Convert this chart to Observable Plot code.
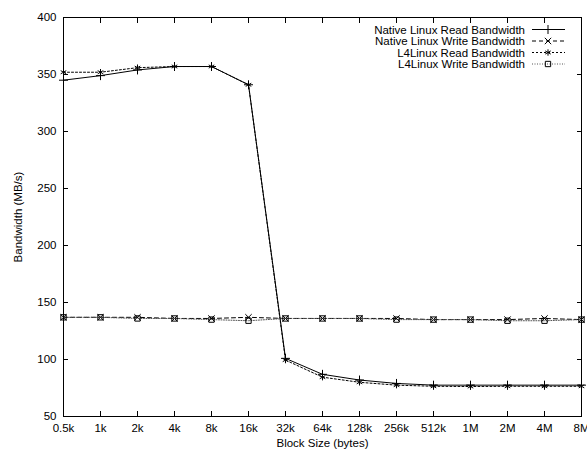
<!DOCTYPE html>
<html><head><meta charset="utf-8">
<script src="https://cdn.jsdelivr.net/npm/d3@7"></script>
<script src="https://cdn.jsdelivr.net/npm/@observablehq/plot@0.6"></script>
<style>body{margin:0;background:#fff}</style>
</head><body><div id="chart"></div>
<script>
const blockSizes = ["0.5k","1k","2k","4k","8k","16k","32k","64k","128k","256k","512k","1M","2M","4M","8M"];
const nativeRead  = [345, 349, 354, 357, 357, 341, 101, 87, 82, 79, 77.5, 77.5, 77.5, 77.5, 77.5];
const nativeWrite = [137, 137, 137, 136, 136, 137, 136, 136, 136, 136, 135, 135, 135, 136, 135];
const l4Read      = [352, 352, 356, 357, 357, 341, 99.5, 84.5, 80, 77.5, 76.5, 76.3, 76.5, 76.5, 76.5];
const l4Write     = [137, 137, 136, 136, 135, 134, 136, 136, 136, 135, 135, 135, 134, 134, 135];
const yTicks = [50, 100, 150, 200, 250, 300, 350, 400];
const seriesNames = ["Native Linux Read Bandwidth","Native Linux Write Bandwidth","L4Linux Read Bandwidth","L4Linux Write Bandwidth"];
const seriesValues = [nativeRead, nativeWrite, l4Read, l4Write];
const seriesSymbols = ["plus","times","asterisk","square"];
const d3Symbols = [d3.symbolPlus, d3.symbolTimes, d3.symbolAsterisk, d3.symbolSquare];
const seriesDash = [null, "4,3", "2,2", "1,1.5"];
const seriesStroke = ["#000", "#000", "#000", "#555"];
const xLabel = "Block Size (bytes)";
const yLabel = "Bandwidth (MB/s)";

const R = 3;
const font = "'Liberation Sans', Arial, Helvetica, sans-serif";

const seriesMarks = seriesNames.flatMap((name, i) => {
  const rows = blockSizes.map((s, j) => ({size: s, value: seriesValues[i][j]}));
  return [
    Plot.line(rows, {x: "size", y: "value", stroke: seriesStroke[i], strokeWidth: 1, strokeDasharray: seriesDash[i]}),
    Plot.dot(rows, {x: "size", y: "value", symbol: () => seriesSymbols[i], r: R, stroke: "#000", fill: "none", strokeWidth: 1})
  ];
});

function legendMark(index, scales, values, dims) {
  const g = d3.create("svg:g").attr("font-family", font).attr("font-size", 11.5);
  const right = dims.width - dims.marginRight;
  seriesNames.forEach((name, i) => {
    const y = dims.marginTop + 12.5 + i * 11.5;
    g.append("text").attr("x", right - 56).attr("y", y).attr("dy", "0.35em")
      .attr("text-anchor", "end").attr("fill", "#000").text(name);
    g.append("line").attr("x1", right - 49).attr("x2", right - 16).attr("y1", y).attr("y2", y)
      .attr("stroke", seriesStroke[i]).attr("stroke-dasharray", seriesDash[i]);
    g.append("path").attr("transform", `translate(${right - 33},${y})`)
      .attr("d", d3.symbol(d3Symbols[i], Math.PI * R * R)())
      .attr("fill", "none").attr("stroke", "#000");
  });
  return g.node();
}

const chart = Plot.plot({
  width: 587,
  height: 450,
  marginLeft: 63,
  marginRight: 6,
  marginTop: 17,
  marginBottom: 34,
  style: {fontFamily: font, fontSize: "11.5px", background: "#fff", color: "#000"},
  x: {type: "point", domain: blockSizes, padding: 0},
  y: {domain: [50, 400]},
  marks: [
    Plot.axisX({anchor: "bottom", tickSize: -5, tickPadding: 12, label: xLabel, labelAnchor: "center", labelOffset: 30, labelArrow: "none"}),
    Plot.axisX({anchor: "top", tickSize: -5, tickFormat: () => "", label: null}),
    Plot.axisY({anchor: "left", ticks: yTicks, tickSize: -5, tickPadding: 12, label: yLabel, labelAnchor: "center", labelOffset: 50, labelArrow: "none"}),
    Plot.axisY({anchor: "right", ticks: yTicks, tickSize: -5, tickFormat: () => "", label: null}),
    ...seriesMarks,
    Plot.frame({stroke: "#000", strokeWidth: 1}),
    legendMark
  ]
});
document.getElementById("chart").appendChild(chart);
</script>
</body></html>
